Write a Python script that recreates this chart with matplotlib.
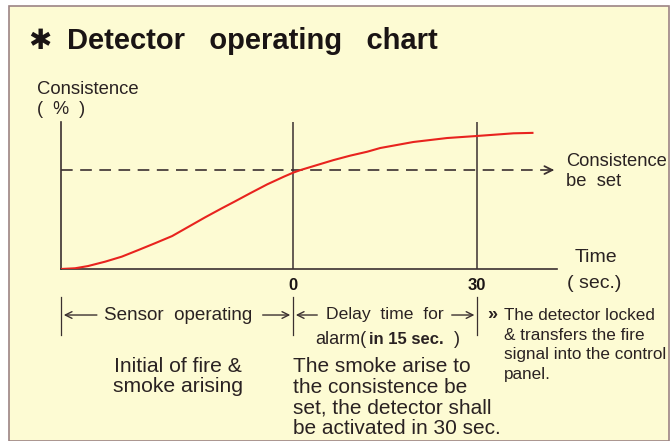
import matplotlib
matplotlib.use("Agg")
import matplotlib.pyplot as plt
from matplotlib.patches import Rectangle

# consistence curve (time in sec, consistence in %)
times = [-37.8, -35.5, -33.4, -30.6, -27.9, -25.2, -22.5, -19.7, -17.0, -14.3,
         -11.6, -9.5, -7.0, -4.2, -1.5, 0.0, 1.2, 3.9, 6.6, 9.3, 12.1, 14.2,
         19.6, 25.1, 30.0, 35.9, 39.0]
consistence = [0.0, 0.5, 2.0, 5.0, 8.4, 12.9, 17.5, 22.4, 28.8, 35.2,
               41.3, 45.9, 51.5, 57.6, 62.8, 65.5, 67.3, 70.7, 74.1, 77.1, 79.8, 82.3,
               86.4, 89.1, 90.5, 92.3, 92.6]
set_level = 67.3
phase_marks = [-37.8, 0, 30]
tick_labels = ["0", "30"]
x_range = (-37.8, 43.0)

W, H = 672, 441
SANS = ["Liberation Sans", "DejaVu Sans"]
INK = "#3b3030"


def px(x, y):
    return x / W, 1 - y / H


fig = plt.figure(figsize=(6.72, 4.41), dpi=100)
fig.patch.set_facecolor("white")
fig.patches.append(Rectangle(px(9, 441), 660 / W, 435 / H, transform=fig.transFigure,
                             facecolor="#fdfbd3", edgecolor="#9c8484", lw=1.2, zorder=-10))

ax = fig.add_axes([61 / W, 1 - 269 / H, 496 / W, 147 / H])
ax.set_facecolor("none")
ax.set_xlim(*x_range)
ax.set_ylim(0, 100)
for s in ["top", "right"]:
    ax.spines[s].set_visible(False)
for s in ["left", "bottom"]:
    ax.spines[s].set_color(INK)
    ax.spines[s].set_linewidth(1.2)
ax.set_xticks([])
ax.set_yticks([])

# curve, set level, phase lines
ax.plot(times, consistence, color="#e8231e", lw=1.5, zorder=3, solid_joinstyle="round")
ax.plot([x_range[0], x_range[1] - 1.0], [set_level, set_level], color=INK,
        lw=1.2, dashes=(7, 4.5))
ax.annotate("", xy=(x_range[1], set_level), xytext=(x_range[1] - 1.5, set_level),
            arrowprops=dict(arrowstyle="->", color=INK, lw=1.3, mutation_scale=14))
for xm in phase_marks[1:]:
    ax.plot([xm, xm], [0, 100], color=INK, lw=1.1)

# phase ticks and arrows below the chart
for xm in phase_marks:
    ax.plot([xm, xm], [-19, -45], color=INK, lw=0.9, clip_on=False)
for xm, lab in zip(phase_marks[1:], tick_labels):
    ax.text(xm, -11, lab, ha="center", va="center", fontsize=12,
            fontweight="bold", family=SANS, color="#1a1414")

arrow_y = -31.3
arr = dict(arrowstyle="->", color=INK, lw=1.0, mutation_scale=12)
ax.annotate("", xy=(phase_marks[0], arrow_y), xytext=(-31.5, arrow_y), arrowprops=arr,
            annotation_clip=False)
ax.annotate("", xy=(0, arrow_y), xytext=(-5.4, arrow_y), arrowprops=arr, annotation_clip=False)
ax.annotate("", xy=(0, arrow_y), xytext=(4.4, arrow_y), arrowprops=arr, annotation_clip=False)
ax.annotate("", xy=(30, arrow_y), xytext=(25.4, arrow_y), arrowprops=arr, annotation_clip=False)

# texts
fig.text(*px(28, 41), "\u2731", fontsize=20, fontweight="bold", va="center",
         family=["DejaVu Sans"], color="#1a1414")
fig.text(*px(67, 41), "Detector   operating   chart", fontsize=21, fontweight="bold",
         va="center", family=SANS, color="#1a1414")

lab = dict(family=SANS, color="#2a2222", va="center")
fig.text(*px(37, 89), "Consistence", fontsize=13.3, **lab)
fig.text(*px(37, 110), "(  %  )", fontsize=13, **lab)
fig.text(*px(566, 162), "Consistence", fontsize=13.2, **lab)
fig.text(*px(566, 181), "be  set", fontsize=13.2, **lab)
fig.text(*px(575, 258), "Time", fontsize=14, **lab)
fig.text(*px(567, 283), "( sec.)", fontsize=14, **lab)

fig.text(*px(178, 315), "Sensor  operating", fontsize=13.6, ha="center", **lab)
fig.text(*px(385, 315), "Delay  time  for", fontsize=12.6, ha="center", **lab)
fig.text(*px(487, 314), "\u00bb", fontsize=13, fontweight="bold", **lab)
for i, line in enumerate(["The detector locked", "& transfers the fire",
                          "signal into the control", "panel."]):
    fig.text(*px(504, 315 + 20 * i), line, fontsize=12.3, **lab)

fig.text(*px(315, 340), "alarm(", fontsize=13, **lab)
fig.text(*px(369, 340), "in 15 sec.", fontsize=12, fontweight="bold", **lab)
fig.text(*px(454, 340), ")", fontsize=13, **lab)

for i, line in enumerate(["Initial of fire &", "smoke arising"]):
    fig.text(*px(178, 366 + 20 * i), line, fontsize=15.2, ha="center", **lab)
for i, line in enumerate(["The smoke arise to", "the consistence be",
                          "set, the detector shall", "be activated in 30 sec."]):
    fig.text(*px(293, 367 + 20.5 * i), line, fontsize=15, **lab)

fig.savefig("out.png", dpi=100)
